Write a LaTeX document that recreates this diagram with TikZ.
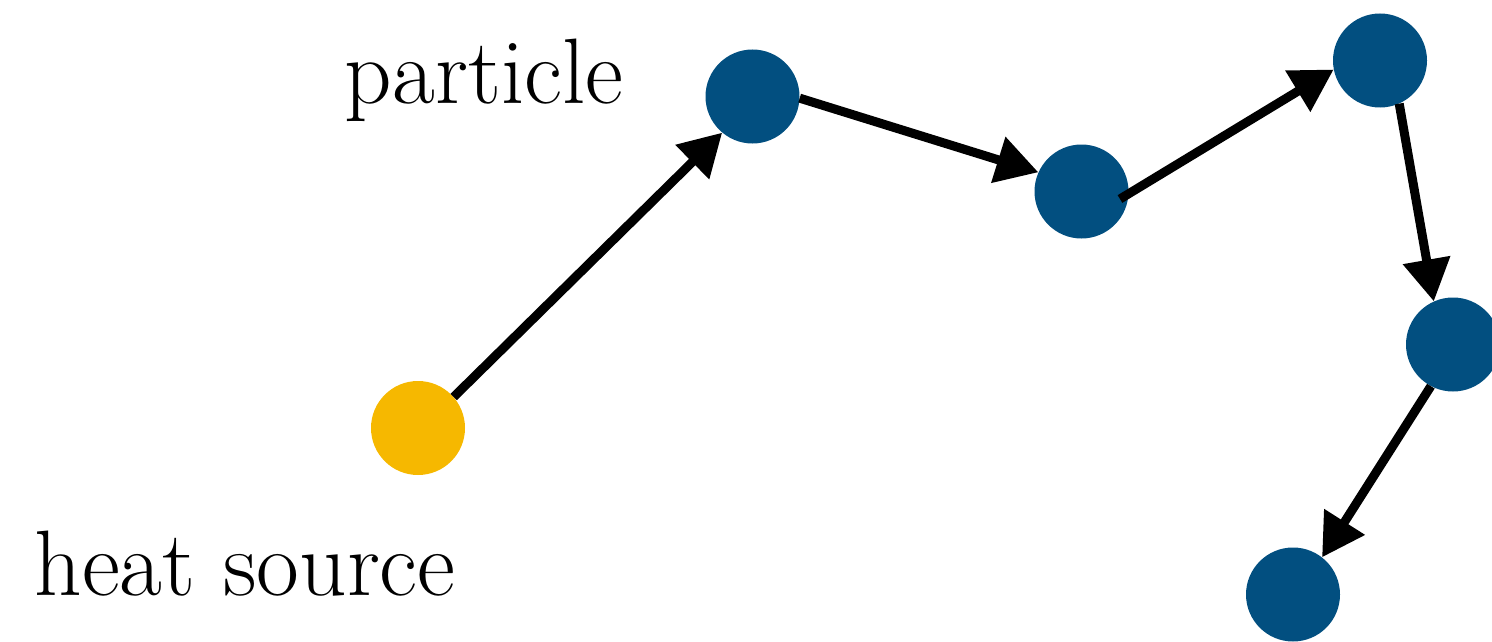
\documentclass[tikz,border=0pt]{standalone}
\usetikzlibrary{arrows.meta,calc}
\definecolor{pblue}{RGB}{2,79,128}
\definecolor{hyellow}{RGB}{246,184,0}
\begin{document}
\begin{tikzpicture}[x=1pt,y=-1pt,
  dot/.style={circle,minimum size=94pt,inner sep=0pt,fill=pblue},
  src/.style={circle,minimum size=94pt,inner sep=0pt,fill=hyellow},
  conn/.style={line width=9pt,-{Triangle[length=42pt,width=46pt]}},
  lbl/.style={anchor=base,inner sep=0pt,font=\fontsize{93}{105}\selectfont}]
\useasboundingbox (0,0) rectangle (1492,642);
\node[src] (s) at (418,428) {};
\node[dot] (a) at (752.5,96.5) {};
\node[dot] (b) at (1081.5,191.5) {};
\node[dot] (c) at (1380,60.5) {};
\node[dot] (d) at (1453,344.5) {};
\node[dot] (e) at (1293,594.5) {};
\coordinate (b3) at ($(b)+(38.5,7.5)$);
\draw[conn] (s.41) -- (a.230);
\draw[conn] (a.-2) -- (b.156);
\draw[conn] (b3) -- (c.191);
\draw[conn] (c.294) -- (d.114);
\draw[conn] (d.242) -- (e.52);
\node[lbl] (pl) at (484,103) {particle};
\node[lbl] (hl) at (245,595) {heat source};
\end{tikzpicture}
\end{document}
